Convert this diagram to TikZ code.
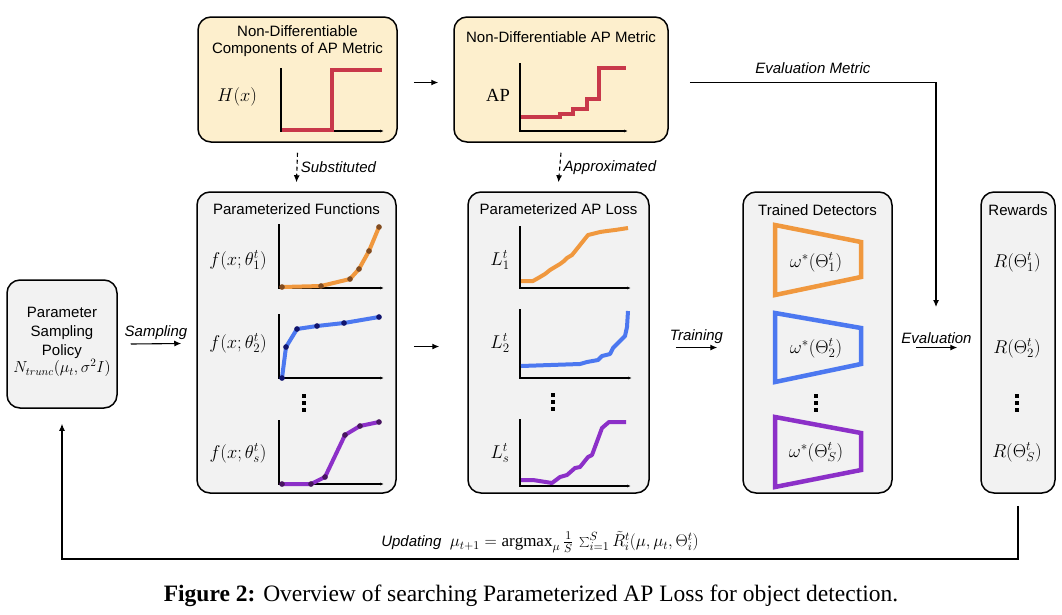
\RequirePackage{fix-cm}
\documentclass[tikz,border=0pt]{standalone}
\usepackage{fontspec}
\setmainfont{Liberation Serif}
\setsansfont{Liberation Sans}
\usetikzlibrary{arrows.meta,positioning}

\definecolor{boxyellow}{RGB}{253,239,205}
\definecolor{boxgrey}{RGB}{242,242,242}
\definecolor{stepred}{RGB}{200,56,74}
\definecolor{curveorange}{RGB}{240,152,62}
\definecolor{curveblue}{RGB}{76,120,240}
\definecolor{curvepurple}{RGB}{140,48,200}
\definecolor{dotorange}{RGB}{130,76,32}
\definecolor{dotblue}{RGB}{16,20,110}
\definecolor{dotpurple}{RGB}{72,20,96}

% three stacked dots
\newcommand{\stackdots}[2]{%
  \foreach \dy in {-7,0,7} \fill (#1-1.8,#2+\dy-2) rectangle (#1+1.8,#2+\dy+2);}

\tikzset{
  panel/.style={draw, line width=1.5pt, rounded corners=13pt, fill=boxgrey, inner sep=0pt},
  metricpanel/.style={panel, fill=boxyellow},
  heading/.style={font=\sffamily\fontsize{15}{17}\selectfont, align=center, inner sep=0pt},
  edgelbl/.style={font=\sffamily\itshape\fontsize{15}{18}\selectfont},
  mathlbl/.style={font=\fontsize{18.5}{21}\selectfont},
  arr/.style={-{Latex[length=7pt,width=6pt]}, line width=1.1pt},
  dasharr/.style={arr, dash pattern=on 4pt off 3pt},
  axis/.style={line width=1.3pt, -{Latex[length=4pt,width=3pt]}},
  stepline/.style={stepred, line width=3.5pt},
  curve/.style={line width=4pt, line join=round},
  dotted curve/.style={curve, mark=*, mark size=2.6pt},
  detector/.style={line width=4.5pt, line join=miter},
}

\begin{document}
\begin{tikzpicture}[x=1pt, y=-1pt]
  \useasboundingbox (0,0) rectangle (1062,614);

  % panels
  \node[metricpanel, minimum width=199, minimum height=125] (comp) at (297.5,79.5) {};
  \node[metricpanel, minimum width=214, minimum height=125] (apm) at (561,79.5) {};
  \node[panel, minimum width=110, minimum height=128] (policy) at (62,344) {};
  \node[panel, minimum width=199, minimum height=301] (funcs) at (296.5,342.5) {};
  \node[panel, minimum width=181, minimum height=301] (loss) at (558.5,342.5) {};
  \node[panel, minimum width=149, minimum height=301] (det) at (817.5,342.5) {};
  \node[panel, minimum width=74, minimum height=301] (rew) at (1018,342.5) {};

  \node[heading, below=9pt of comp.north] (comptitle) {Non-Differentiable\\Components of AP Metric};
  \node[heading, below=15pt of apm.north] (apmtitle) {Non-Differentiable AP Metric};
  \node[heading, below=12pt of funcs.north] (funcstitle) {Parameterized Functions};
  \node[heading, below=12pt of loss.north] (losstitle) {Parameterized AP Loss};
  \node[heading, below=13pt of det.north] (dettitle) {Trained Detectors};
  \node[heading, below=13pt of rew.north] (rewtitle) {Rewards};
  \node[heading, font=\sffamily\fontsize{15}{19}\selectfont] (policytext) at (62,342)
    {Parameter\\Sampling\\Policy\\[-2pt]{\fontsize{16}{19}\selectfont$N_{trunc}(\mu_t,\sigma^2 I)$}};

  % non-differentiable metric
  \node[mathlbl] (hx) at (237,97) {$H(x)$};
  \draw[axis] (281,68) -- (281,131) -- (384,131);
  \draw[stepline] (282,130) -- (332,130) -- (332,70) -- (382,70);

  \node[mathlbl] (ap) at (498,95) {$\mathrm{AP}$};
  \draw[axis] (520,63) -- (520,131) -- (628,131);
  \draw[stepline] (521,117) -- (560,117) -- (560,114) -- (573,114) -- (573,109)
    -- (587,109) -- (587,99) -- (599,99) -- (599,68) -- (626,68);

  % parameterized functions
  \node[mathlbl] (f1) at (238,260) {$f(x;\theta_1^t)$};
  \node[mathlbl] (f2) at (238,343) {$f(x;\theta_2^t)$};
  \node[mathlbl] (fs) at (238,453) {$f(x;\theta_s^t)$};
  \draw[axis] (279,224) -- (279,288) -- (384,288);
  \draw[axis] (279,314) -- (279,378) -- (384,378);
  \draw[axis] (279,420) -- (279,484) -- (384,484);
  \draw[dotted curve, curveorange, mark options={color=dotorange, line width=0.3pt}]
    plot coordinates {(282,287) (321,286) (350,279) (359,269) (369,251) (379,227)};
  \draw[dotted curve, curveblue, mark options={color=dotblue, line width=0.3pt}]
    plot coordinates {(282,378) (286,347) (297,329) (317,326) (344,323) (379,317)};
  \draw[dotted curve, curvepurple, mark options={color=dotpurple, line width=0.3pt}]
    plot coordinates {(282,484) (311,484) (325,477) (345,435) (360,426) (379,422)};
  \stackdots{304}{403}

  % parameterized loss
  \node[mathlbl] (l1) at (500,260) {$L_1^t$};
  \node[mathlbl] (l2) at (500,343) {$L_2^t$};
  \node[mathlbl] (ls) at (500,453) {$L_s^t$};
  \draw[axis] (520,226) -- (520,288) -- (631,288);
  \draw[axis] (520,309) -- (520,378) -- (632,378);
  \draw[axis] (520,419) -- (520,486) -- (631,486);
  \draw[curve, curveorange] plot coordinates {(521,281) (533,281) (540,277) (545,274)
    (550,270) (555,267) (560,264) (564,261) (567,258) (572,255) (576,250) (580,245)
    (588,235) (600,232) (607,231) (615,230) (628,228)};
  \draw[curve, curveblue] plot coordinates {(521,366) (580,364) (587,362) (598,360)
    (602,356) (610,354) (613,348) (618,343) (625,336) (627,327) (628,311)};
  \draw[curve, curvepurple] plot coordinates {(521,480) (533,480) (552,483) (560,477)
    (567,475) (575,468) (580,467) (588,457) (592,455) (602,428) (609,422) (626,422)};
  \stackdots{553}{402}

  % trained detectors
  \draw[detector, curveorange] (775,225) -- (861,242) -- (861,277) -- (775,295) -- cycle;
  \draw[detector, curveblue] (775,313) -- (861,328) -- (861,364) -- (775,382) -- cycle;
  \draw[detector, curvepurple] (775,417) -- (861,433) -- (861,470) -- (775,487) -- cycle;
  \node[mathlbl] (w1) at (816,262) {$\omega^*(\Theta_1^t)$};
  \node[mathlbl] (w2) at (816,348) {$\omega^*(\Theta_2^t)$};
  \node[mathlbl] (ws) at (816,452) {$\omega^*(\Theta_S^t)$};
  \stackdots{816}{403}

  % rewards
  \node[mathlbl] (r1) at (1017,262) {$R(\Theta_1^t)$};
  \node[mathlbl] (r2) at (1017,348) {$R(\Theta_2^t)$};
  \node[mathlbl] (rs) at (1017,452) {$R(\Theta_S^t)$};
  \stackdots{1017}{403}

  % connectors
  \coordinate (evaltip) at (936,307);
  \coordinate (fbline) at (0,559);

  \draw[arr] ([xshift=16pt,yshift=-3pt]comp.east) -- ([xshift=-15pt,yshift=-3pt]apm.west);
  \draw[dasharr] ([yshift=-10pt]comp.south) -- node[right, edgelbl] {Substituted} ([yshift=9pt]funcs.north);
  \draw[dasharr] ([yshift=-10pt]apm.south) -- node[right, edgelbl] {Approximated} ([yshift=9pt]loss.north);
  \draw[arr] ([xshift=13pt]policy.east) -- node[above, edgelbl] {Sampling} ([xshift=-15pt,yshift=-1pt]funcs.west);
  \draw[arr] ([xshift=17pt,yshift=-4pt]funcs.east) -- ([xshift=-28pt,yshift=-4pt]loss.west);
  \draw[arr] ([xshift=26pt,yshift=-5pt]loss.east) -- node[above, edgelbl] {Training} ([xshift=-25pt,yshift=-5pt]det.west);
  \draw[arr] ([xshift=23pt,yshift=-5pt]det.east) -- node[above, edgelbl] {Evaluation} ([xshift=-23pt,yshift=-5pt]rew.west);
  \draw[arr] ([xshift=21pt,yshift=-3pt]apm.east) -| node[pos=0.25, above=5pt, edgelbl] {Evaluation Metric} (evaltip);
  \draw[arr] ([yshift=-12pt]rew.south) -- (rew.south |- fbline)
    -| node[pos=0.25, above=2pt, font=\fontsize{17}{20}\selectfont]
       {\textsf{\itshape\fontsize{15}{18}\selectfont Updating}\ \ $\mu_{t+1}=\mathrm{argmax}_{\mu}\,\frac{1}{S}\,\sum_{i=1}^{S}\tilde{R}_i^t(\mu,\mu_t,\Theta_i^t)$}
    ([yshift=-15pt]policy.south);

  % caption
  \node[font=\fontsize{23.5}{28}\selectfont] (caption) at (531,596)
    {\textbf{Figure 2:} Overview of searching Parameterized AP Loss for object detection.};
\end{tikzpicture}
\end{document}
